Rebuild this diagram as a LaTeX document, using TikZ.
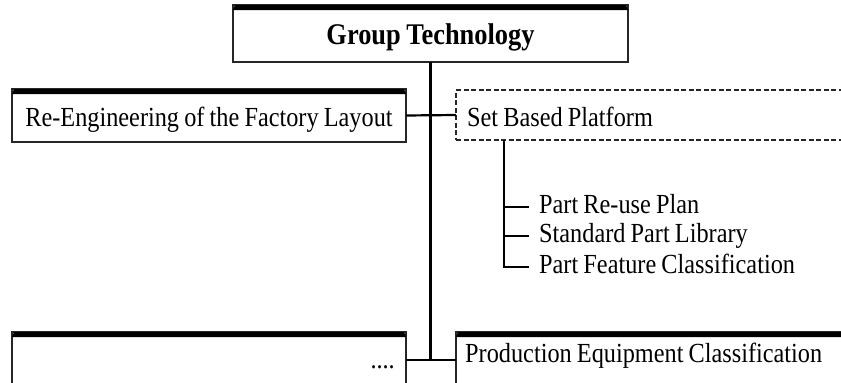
\documentclass[tikz,border=0pt]{standalone}
\usepackage{fontspec}
\setmainfont{Liberation Serif}[FakeStretch=0.88, WordSpace=0.85]
\newcommand\boxbar[1]{\fill[black] ([yshift=-5pt]#1.north west) -- ([xshift=2pt]#1.north west) -- ([xshift=-2pt]#1.north east) -- ([yshift=-5pt]#1.north east) -- cycle;}
\begin{document}
\begin{tikzpicture}[x=1pt,y=-1pt,
 box/.style={draw=black!85, line width=1.3pt, inner sep=0pt, outer sep=0pt, anchor=north west},
 txt/.style={font=\fontsize{27.6}{32}\selectfont},
 lbl/.style={inner xsep=0pt, inner ysep=0pt, txt, text height=18pt, text depth=5pt},
 link/.style={line width=2.2pt},
 twig/.style={line width=1.8pt},
 dashbox/.style={box, dash pattern=on 5pt off 2.5pt, line width=1.5pt},
]
\useasboundingbox (0,0) rectangle (841,383);
\clip (0,0) rectangle (841,383);
% boxes
\node[box, minimum width=395pt, minimum height=57pt, text height=24pt, text depth=2pt, font=\bfseries\fontsize{30}{34}\selectfont] (GT) at (233,5) {Group Technology};
\boxbar{GT}
\node[box, txt, minimum width=394pt, minimum height=53pt, text height=24pt, text depth=2pt] (RE) at (12,89) {Re-Engineering of the Factory Layout};
\boxbar{RE}
\node[dashbox, minimum width=420pt, minimum height=50pt] (SBP) at (456,90) {};
\node[lbl, anchor=base west] (ST) at (467,126) {Set Based Platform};
\node[box, minimum width=394pt, minimum height=80pt] (DOTS) at (12,332) {};
\boxbar{DOTS}
\node[box, minimum width=420pt, minimum height=80pt] (PEC) at (456,332) {};
\boxbar{PEC}
\node[lbl, anchor=base east] (DT) at (395,368) {....};
\node[lbl, anchor=base west] (PT) at (465,362) {Production Equipment Classification};
% sub items
\node[lbl, anchor=west, inner xsep=10pt] (P1) at (529,207) {Part Re-use Plan};
\node[lbl, anchor=west, inner xsep=10pt] (P2) at (529,236) {Standard Part Library};
\node[lbl, anchor=west, inner xsep=10pt] (P3) at (529,267) {Part Feature Classification};
% connectors
\coordinate (J) at (430.5,360);
\draw[link] (GT.south) -- (J);
\draw[link] (J -| DOTS.east) -- (J -| PEC.west);
\draw[link] (RE.east) -- (SBP.west);
\coordinate (S0) at ([xshift=48pt]SBP.south west);
\draw[twig] (S0) |- (P3.west);
\draw[twig] (S0 |- P1.west) -- (P1.west);
\draw[twig] (S0 |- P2.west) -- (P2.west);
\end{tikzpicture}
\end{document}
